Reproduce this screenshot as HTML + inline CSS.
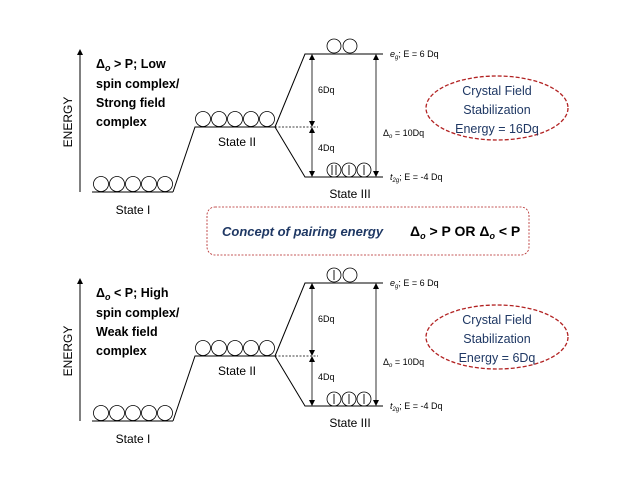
<!DOCTYPE html>
<html><head><meta charset="utf-8"><style>
html,body{margin:0;padding:0;background:#fff;}
svg{display:block;font-family:"Liberation Sans",sans-serif;}
</style></head><body>
<svg width="638" height="479" viewBox="0 0 638 479" xmlns="http://www.w3.org/2000/svg">
<defs>
<marker id="a" markerWidth="6" markerHeight="6" refX="3" refY="3" orient="auto-start-reverse" markerUnits="userSpaceOnUse"><path d="M0,0 L6,3 L0,6 z" fill="#000"/></marker>
<g id="diag">
  <line x1="80" y1="192" x2="80" y2="52" stroke="#000" stroke-width="1" marker-end="url(#a)"/>
  <text transform="translate(72,122) rotate(-90)" font-size="12" text-anchor="middle">ENERGY</text>
  <line x1="92" y1="192" x2="173" y2="192" stroke="#000"/>
  <g fill="none" stroke="#000" stroke-width="0.8">
    <circle cx="101" cy="184" r="7.5"/><circle cx="117" cy="184" r="7.5"/><circle cx="133" cy="184" r="7.5"/><circle cx="149" cy="184" r="7.5"/><circle cx="165" cy="184" r="7.5"/>
    <circle cx="203" cy="119" r="7.5"/><circle cx="219" cy="119" r="7.5"/><circle cx="235" cy="119" r="7.5"/><circle cx="251" cy="119" r="7.5"/><circle cx="267" cy="119" r="7.5"/>
  </g>
  <text x="133" y="214" font-size="12" text-anchor="middle">State I</text>
  <polyline points="173,192 195,127 275,127" fill="none" stroke="#000"/>
  <text x="237" y="146" font-size="12" text-anchor="middle">State II</text>
  <polyline points="275,127 305,54 383,54" fill="none" stroke="#000"/>
  <polyline points="275,127 305,177 383,177" fill="none" stroke="#000"/>
  <line x1="275" y1="127" x2="318" y2="127" stroke="#000" stroke-dasharray="2,1.5" stroke-width="0.8"/>
  <line x1="312" y1="57" x2="312" y2="124" stroke="#000" stroke-width="0.8" marker-start="url(#a)" marker-end="url(#a)"/>
  <line x1="312" y1="130" x2="312" y2="174" stroke="#000" stroke-width="0.8" marker-start="url(#a)" marker-end="url(#a)"/>
  <line x1="376" y1="57" x2="376" y2="174" stroke="#000" stroke-width="0.8" marker-start="url(#a)" marker-end="url(#a)"/>
  <text x="318" y="93" font-size="9">6Dq</text>
  <text x="318" y="151" font-size="9">4Dq</text>
  <text x="383" y="136" font-size="9">Δ<tspan font-size="6" dy="2" font-style="italic">o</tspan><tspan dy="-2"> = 10Dq</tspan></text>
  <text x="390" y="57" font-size="9"><tspan font-style="italic">e</tspan><tspan font-size="6" dy="2" font-style="italic">g</tspan><tspan dy="-2">; E = 6 Dq</tspan></text>
  <text x="390" y="180" font-size="9"><tspan font-style="italic">t</tspan><tspan font-size="6" dy="2" font-style="italic">2g</tspan><tspan dy="-2">; E = -4 Dq</tspan></text>
  <text x="350" y="198" font-size="12" text-anchor="middle">State III</text>
</g>
</defs>
<use href="#diag"/>
<g fill="none" stroke="#000" stroke-width="0.8">
  <circle cx="334" cy="46" r="7"/><circle cx="350" cy="46" r="7"/>
  <circle cx="334" cy="170" r="7"/><circle cx="349" cy="170" r="7"/><circle cx="364" cy="170" r="7"/>
  <path d="M332,175 V165 M336,175 V165 M349,175 V165 M364,175 V165" stroke-width="0.9"/>
</g>
<g font-size="12.5" font-weight="bold">
<text x="96" y="68">Δ<tspan font-size="9" dy="3" font-style="italic">o</tspan><tspan dy="-3"> &gt; P; Low</tspan></text>
<text x="96" y="88">spin complex/</text>
<text x="96" y="107">Strong field</text>
<text x="96" y="126">complex</text>
</g>
<ellipse cx="497" cy="108" rx="71" ry="32" fill="none" stroke="#b22222" stroke-width="1.3" stroke-dasharray="4,2"/>
<g font-size="12.5" fill="#1f3864" text-anchor="middle">
<text x="497" y="95">Crystal Field</text><text x="497" y="114">Stabilization</text><text x="497" y="133">Energy = 16Dq</text></g>
<rect x="207" y="207" width="322" height="48" rx="8" fill="none" stroke="#b22222" stroke-width="0.8" stroke-dasharray="2,1.5"/>
<text x="222" y="236" font-size="13" font-weight="bold" font-style="italic" fill="#1f3864">Concept of pairing energy</text>
<text x="410" y="236" font-size="14" font-weight="bold">Δ<tspan font-size="9" dy="3" font-style="italic">o</tspan><tspan dy="-3"> &gt; P OR Δ</tspan><tspan font-size="9" dy="3" font-style="italic">o</tspan><tspan dy="-3"> &lt; P</tspan></text>
<use href="#diag" y="229"/>
<g fill="none" stroke="#000" stroke-width="0.8">
  <circle cx="334" cy="275" r="7"/><circle cx="350" cy="275" r="7"/>
  <circle cx="334" cy="399" r="7"/><circle cx="349" cy="399" r="7"/><circle cx="364" cy="399" r="7"/>
  <path d="M334,280 V270 M334,404 V394 M349,404 V394 M364,404 V394" stroke-width="0.9"/>
</g>
<g font-size="12.5" font-weight="bold">
<text x="96" y="297">Δ<tspan font-size="9" dy="3" font-style="italic">o</tspan><tspan dy="-3"> &lt; P; High</tspan></text>
<text x="96" y="317">spin complex/</text>
<text x="96" y="336">Weak field</text>
<text x="96" y="355">complex</text>
</g>
<ellipse cx="497" cy="337" rx="71" ry="32" fill="none" stroke="#b22222" stroke-width="1.3" stroke-dasharray="4,2"/>
<g font-size="12.5" fill="#1f3864" text-anchor="middle">
<text x="497" y="324">Crystal Field</text><text x="497" y="343">Stabilization</text><text x="497" y="362">Energy = 6Dq</text></g>
</svg>
</body></html>
